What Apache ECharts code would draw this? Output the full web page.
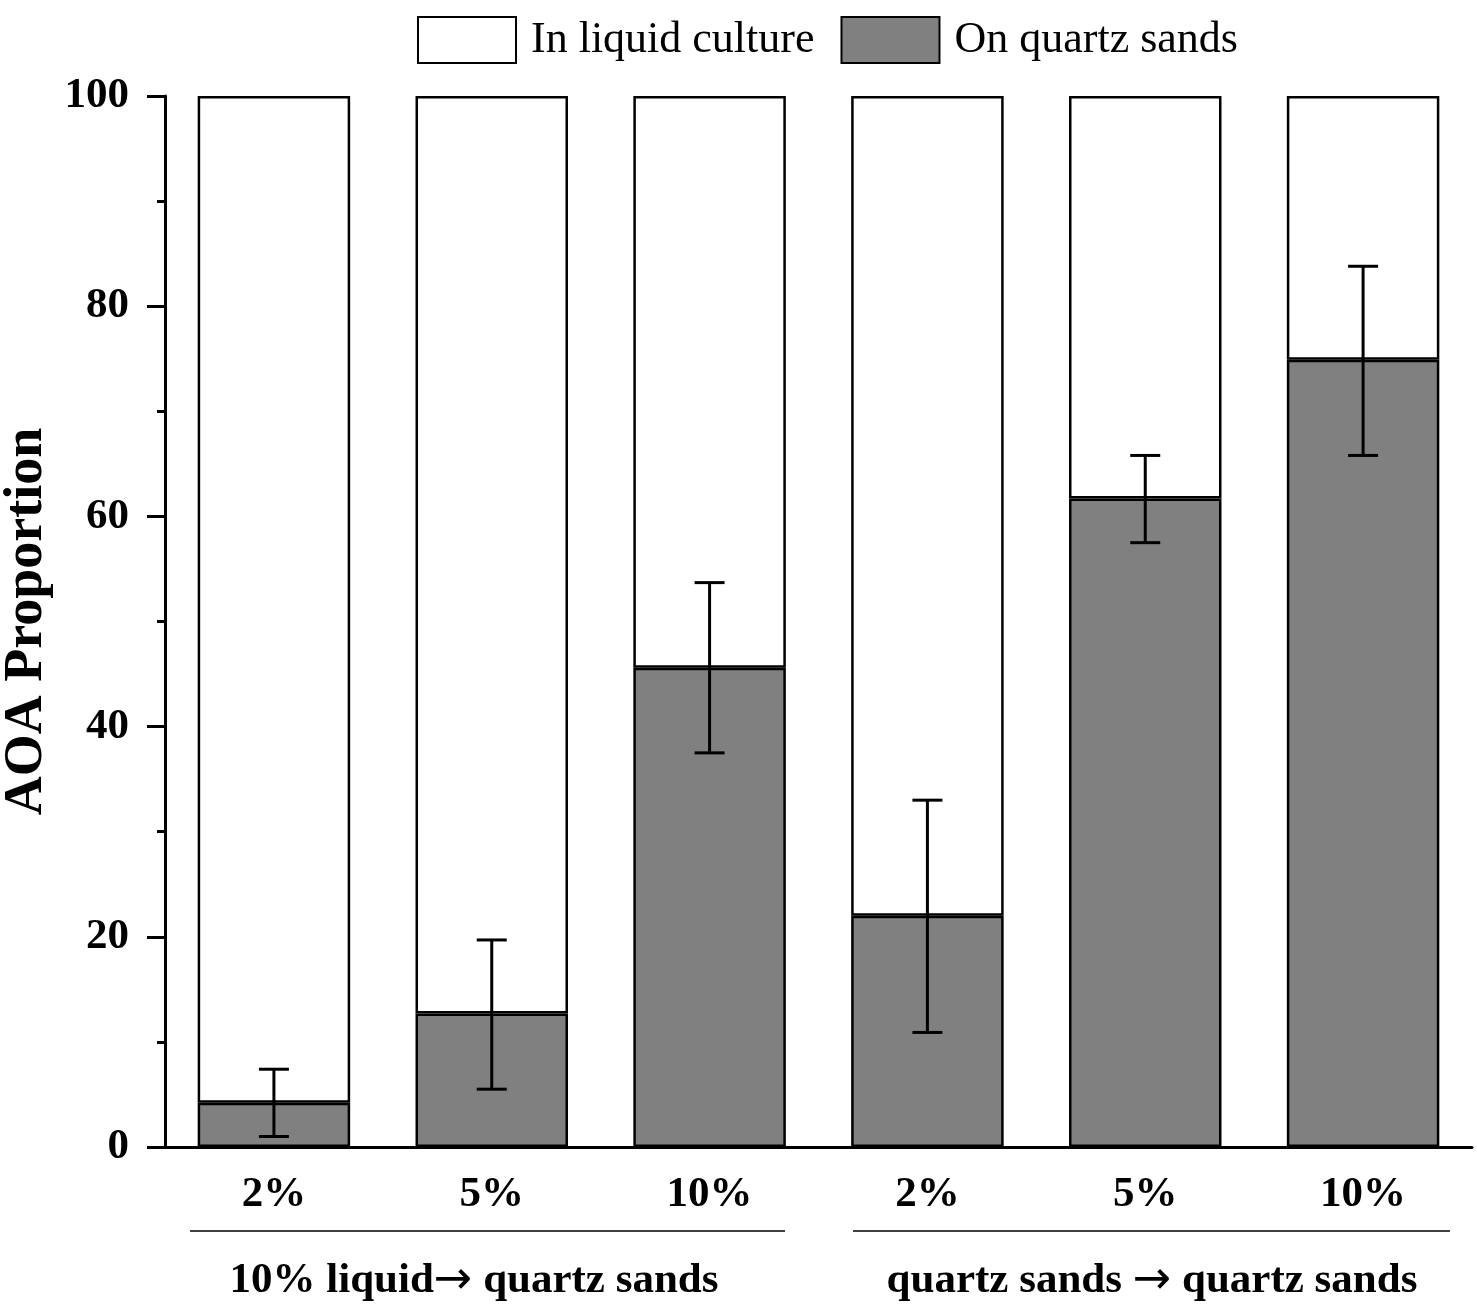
<!DOCTYPE html>
<html>
<head>
<meta charset="utf-8">
<script src="https://cdn.jsdelivr.net/npm/echarts@6/dist/echarts.min.js"></script>
<style>
  html, body { margin: 0; padding: 0; background: #fff; }
  #main { width: 1477px; height: 1309px; }
</style>
</head>
<body>
<div id="main"></div>
<script>
// categories and values
var categories = ['2%', '5%', '10%', '2% ', '5% ', '10% '];
var quartz = [4.2, 12.7, 45.6, 22.0, 61.7, 74.9];
var errLow = [1.0, 5.5, 37.5, 10.9, 57.5, 65.8];
var errHigh = [7.4, 19.7, 53.7, 33.0, 65.8, 83.8];
var groupLeft = ['10% liquid', 'quartz sands '];
var groupRight = [' quartz sands', ' quartz sands'];
var yTicks = [0, 20, 40, 60, 80, 100];

var liquid = [];
for (var i = 0; i < quartz.length; i++) {
    liquid.push(+(100 - quartz[i]).toFixed(1));
}
var errData = [];
for (var i = 0; i < categories.length; i++) {
    errData.push([i, errLow[i], errHigh[i]]);
}

var font = '"Liberation Serif", "Times New Roman", serif';
var myChart = echarts.init(document.getElementById('main'));

function groupLabel(k, cx) {
    return {
        type: 'text', x: cx, y: 1281,
        style: {
            text: '{t|' + groupLeft[k] + '}{a|\u2192}{t|' + groupRight[k] + '}',
            align: 'center', verticalAlign: 'middle',
            rich: {
                t: { fontFamily: font, fontSize: 43, fontWeight: 'bold', fill: '#000' },
                a: { fontFamily: 'DejaVu Sans', fontSize: 46, fill: '#000' }
            }
        }
    };
}

myChart.setOption({
    animation: false,
    textStyle: { fontFamily: font },
    grid: { left: 165, right: 5, top: 96, bottom: 162, outerBoundsMode: 'none' },
    legend: {
        top: 11,
        left: 412,
        itemWidth: 98,
        itemHeight: 46,
        itemGap: 26,
        icon: 'rect',
        textStyle: { fontFamily: font, fontSize: 44, color: '#000', padding: [0, 0, 0, 10] },
        data: ['In liquid culture', 'On quartz sands']
    },
    xAxis: {
        type: 'category',
        data: categories,
        axisLine: { lineStyle: { color: '#000', width: 3 } },
        axisTick: { show: false },
        axisLabel: {
            color: '#000', fontFamily: font, fontSize: 43, fontWeight: 'bold', margin: 26,
            formatter: function (v) { return v.trim(); }
        }
    },
    yAxis: {
        type: 'value',
        min: 0,
        max: 100,
        interval: 20,
        name: 'AOA Proportion',
        nameLocation: 'middle',
        nameGap: 103,
        nameTextStyle: { color: '#000', fontFamily: font, fontSize: 54, fontWeight: 'bold' },
        axisLine: { show: true, lineStyle: { color: '#000', width: 3 } },
        axisTick: { show: true, inside: false, length: 18, lineStyle: { width: 3, color: '#000' } },
        minorTick: { show: true, splitNumber: 2, length: 8, lineStyle: { width: 3, color: '#000' } },
        splitLine: { show: false },
        axisLabel: {
            color: '#000', fontFamily: font, fontSize: 43, fontWeight: 'bold', margin: 36,
            formatter: function (v) { return yTicks.indexOf(v) >= 0 ? String(v) : ''; }
        }
    },
    series: [
        {
            name: 'On quartz sands',
            type: 'bar',
            stack: 'total',
            data: quartz,
            barCategoryGap: '30%',
            itemStyle: { color: '#808080', borderColor: '#000', borderWidth: 2.5 }
        },
        {
            name: 'In liquid culture',
            type: 'bar',
            stack: 'total',
            data: liquid,
            itemStyle: { color: '#fff', borderColor: '#000', borderWidth: 2.5 }
        },
        {
            type: 'custom',
            name: 'error',
            z: 10,
            data: errData,
            renderItem: function (params, api) {
                var x = api.value(0);
                var lo = api.coord([x, api.value(1)]);
                var hi = api.coord([x, api.value(2)]);
                var half = 15;
                var st = { stroke: '#000', lineWidth: 3 };
                return {
                    type: 'group',
                    children: [
                        { type: 'line', shape: { x1: lo[0], y1: lo[1], x2: hi[0], y2: hi[1] }, style: st },
                        { type: 'line', shape: { x1: lo[0] - half, y1: lo[1], x2: lo[0] + half, y2: lo[1] }, style: st },
                        { type: 'line', shape: { x1: hi[0] - half, y1: hi[1], x2: hi[0] + half, y2: hi[1] }, style: st }
                    ]
                };
            }
        }
    ],
    graphic: [
        { type: 'line', shape: { x1: 190, y1: 1231, x2: 785, y2: 1231 }, style: { stroke: '#000', lineWidth: 1.5 } },
        { type: 'line', shape: { x1: 853, y1: 1231, x2: 1450, y2: 1231 }, style: { stroke: '#000', lineWidth: 1.5 } },
        groupLabel(0, 474),
        groupLabel(1, 1152)
    ]
});
</script>
</body>
</html>
